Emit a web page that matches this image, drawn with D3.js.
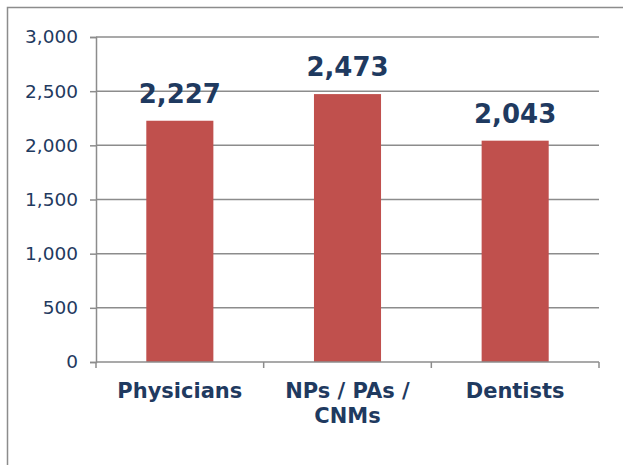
<!DOCTYPE html>
<html>
<head>
	<script src="https://cdn.jsdelivr.net/npm/d3@7"></script>
	<style>
		body { margin: 0; background: #fff; }
		svg text { font-family: "DejaVu Sans", Verdana, sans-serif; }
	</style>
</head>
<body>
	<div id="chart"></div>
	<script>
		// chart data
		var categories = ["Physicians", "NPs / PAs / CNMs", "Dentists"];
		var categoryLines = [["Physicians"], ["NPs / PAs /", "CNMs"], ["Dentists"]];
		var values = [2227, 2473, 2043];
		var yTicks = [0, 500, 1000, 1500, 2000, 2500, 3000];

		var width = 623, height = 465;
		var textColor = "#1F3A60";
		var gridColor = "#8C8C8C";

		var svg = d3.select("#chart").append("svg")
			.attr("width", width)
			.attr("height", height);

		// outer frame (right and bottom edges fall outside the picture)
		svg.append("rect")
			.attr("x", 7.5)
			.attr("y", 7.5)
			.attr("width", width + 20)
			.attr("height", height + 20)
			.attr("fill", "none")
			.attr("stroke", gridColor)
			.attr("stroke-width", 1.5);

		var plotLeft = 96, plotRight = 599, plotTop = 37, plotBottom = 362;

		var x = d3.scaleBand()
			.domain(categories)
			.range([plotLeft, plotRight])
			.padding(0);

		var y = d3.scaleLinear()
			.domain([0, 3000])
			.range([plotBottom, plotTop]);

		// gridlines
		svg.append("g")
			.selectAll("line")
			.data(yTicks.filter(function(d) { return d > 0; }))
			.enter().append("line")
			.attr("x1", plotLeft)
			.attr("x2", plotRight)
			.attr("y1", function(d) { return y(d); })
			.attr("y2", function(d) { return y(d); })
			.attr("stroke", gridColor)
			.attr("stroke-width", 1.5);

		// y axis
		var yAxis = svg.append("g")
			.attr("transform", "translate(" + plotLeft + ",0)")
			.call(d3.axisLeft(y)
				.tickValues(yTicks)
				.tickSize(6)
				.tickPadding(12)
				.tickFormat(d3.format(",")));
		yAxis.select(".domain").attr("stroke", gridColor).attr("stroke-width", 1.5);
		yAxis.selectAll(".tick line").attr("stroke", gridColor).attr("stroke-width", 1.5);
		yAxis.selectAll(".tick text")
			.attr("fill", textColor)
			.style("font-size", "18.5px");

		// bars
		var barWidth = x.bandwidth() * 0.4;
		svg.append("g")
			.selectAll("rect")
			.data(values)
			.enter().append("rect")
			.attr("x", function(d, i) { return x(categories[i]) + (x.bandwidth() - barWidth) / 2; })
			.attr("y", function(d) { return y(d); })
			.attr("width", barWidth)
			.attr("height", function(d) { return y(0) - y(d); })
			.attr("fill", "#C0504D");

		// value labels
		svg.append("g")
			.selectAll("text")
			.data(values)
			.enter().append("text")
			.attr("x", function(d, i) { return x(categories[i]) + x.bandwidth() / 2; })
			.attr("y", function(d) { return y(d) - 18; })
			.attr("text-anchor", "middle")
			.attr("fill", textColor)
			.style("font-size", "26px")
			.style("font-weight", "bold")
			.text(function(d) { return d3.format(",")(d); });

		// x axis
		var xAxis = svg.append("g");
		xAxis.append("line")
			.attr("x1", plotLeft)
			.attr("x2", plotRight)
			.attr("y1", plotBottom)
			.attr("y2", plotBottom)
			.attr("stroke", gridColor)
			.attr("stroke-width", 1.5);
		xAxis.selectAll("line.tick")
			.data(categories.concat([null]))
			.enter().append("line")
			.attr("class", "tick")
			.attr("x1", function(d) { return d ? x(d) : plotRight; })
			.attr("x2", function(d) { return d ? x(d) : plotRight; })
			.attr("y1", plotBottom)
			.attr("y2", plotBottom + 6)
			.attr("stroke", gridColor)
			.attr("stroke-width", 1.5);

		var catLabel = svg.append("g")
			.selectAll("text")
			.data(categories)
			.enter().append("text")
			.attr("text-anchor", "middle")
			.attr("fill", textColor)
			.style("font-size", "21px")
			.style("font-weight", "bold");
		catLabel.selectAll("tspan")
			.data(function(d, i) {
				return categoryLines[i].map(function(t) { return { text: t, cat: d }; });
			})
			.enter().append("tspan")
			.attr("x", function(d) { return x(d.cat) + x.bandwidth() / 2; })
			.attr("y", function(d, j) { return 398 + j * 25; })
			.text(function(d) { return d.text; });
	</script>
</body>
</html>
